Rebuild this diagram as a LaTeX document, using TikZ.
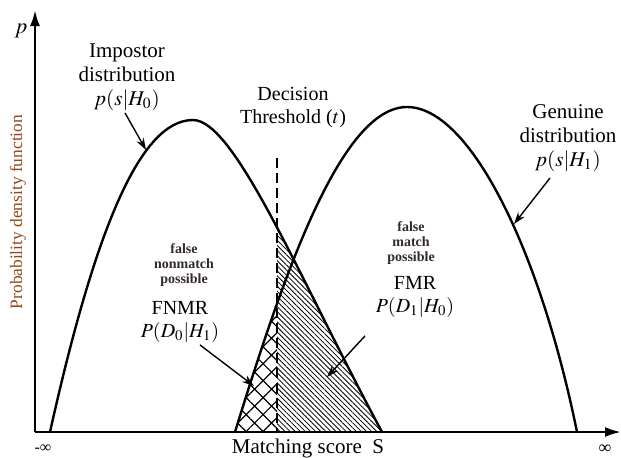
\documentclass[tikz,border=0pt]{standalone}
\usepackage{amsmath}
\usepackage{mathptmx}
\usepackage{fontspec}
\setmainfont{Liberation Serif}
\usetikzlibrary{arrows.meta,patterns.meta}
\definecolor{axisbrown}{RGB}{145,72,25}
\definecolor{hintgray}{RGB}{50,40,50}

\begin{document}
\begin{tikzpicture}[x=0.5pt,y=-0.5pt,axis/.style={line width=1.2pt,-{Latex[length=8pt,width=5pt]}},curve/.style={line width=1.2pt},pointer/.style={line width=0.7pt,-{Stealth[length=6pt,width=4pt]}},distlbl/.style={align=center,inner sep=0pt,font=\fontsize{10.5}{12}\selectfont},ratelbl/.style={align=center,inner sep=0pt,font=\fontsize{10}{11.5}\selectfont},hint/.style={align=center,inner sep=0pt,text=hintgray,font=\fontsize{7}{7.5}\selectfont\bfseries},fmrfill/.style={pattern={Lines[angle=-45,distance=1.8pt,line width=0.4pt]}},fnmrfill/.style={pattern={Hatch[angle=45,distance=6pt,line width=0.6pt]}}]
\def\impostor{(50,432) .. controls (95,230) and (140,120) .. (193,120) .. controls (235,120) and (300,280) .. (382,432)}
\def\genuine{(235,432) .. controls (282,280) and (340,107) .. (407,107) .. controls (470,107) and (540,250) .. (577,432)}
\def\tx{277};

\useasboundingbox (0,0) rectangle (621,457);

\begin{scope}
\clip (\tx,100) rectangle (400,432);
\fill[fmrfill] \impostor -- cycle;
\end{scope}
\begin{scope}
\clip (200,250) rectangle (\tx,432);
\fill[fnmrfill] \genuine -- cycle;
\end{scope}

\draw[curve] \impostor;
\draw[curve] \genuine;

\coordinate (O) at (35,432);
\coordinate (ytop) at (35,10);
\coordinate (xend) at (621,432);
\draw[axis] (O) -- (ytop);
\draw[axis] (O) -- (xend);

\coordinate (ttop) at (\tx,158);
\coordinate (tbot) at (\tx,432);
\draw[line width=1pt,dash pattern=on 5pt off 2.5pt] (ttop) -- (tbot);

\node (p) at (21,31) {\fontsize{11}{11}\selectfont$p$};
\node[rotate=90,text=axisbrown,font=\fontsize{8.7}{9}\selectfont] (pdf) at (18,212) {Probability density function};
\node[font=\fontsize{8}{8}\selectfont] (minf) at (43,449) {-∞};
\node[font=\fontsize{9}{9}\selectfont] (pinf) at (605,449) {∞};
\node[anchor=base,font=\fontsize{10.5}{12}\selectfont] (score) at (308,453) {Matching score\ \ S};

\node[distlbl] (imp) at (127,77) {Impostor\\distribution\\$p(s|H_0)$};
\node[distlbl] (gen) at (568,138) {Genuine\\distribution\\$p(s|H_1)$};
\node[ratelbl] (thr) at (293,107) {Decision\\Threshold ($t$)};

\node[hint] (fnmrhint) at (184,265) {false\\nonmatch\\possible};
\node[ratelbl] (fnmr) at (180,322) {FNMR\\$P(D_0|H_1)$};
\node[hint] (fmrhint) at (411,243) {false\\match\\possible};
\node[ratelbl] (fmr) at (415,297) {FMR\\$P(D_1|H_0)$};

\coordinate (impTip) at (146,150);
\coordinate (genTip) at (514,224);
\coordinate (fnmrTip) at (254,386);
\coordinate (fmrTip) at (327,377);
\draw[pointer] ([xshift=-1pt,yshift=-1pt]imp.south) -- (impTip);
\draw[pointer] ([xshift=-9pt,yshift=-3pt]gen.south) -- (genTip);
\draw[pointer] ([xshift=10pt,yshift=-1pt]fnmr.south) -- (fnmrTip);
\draw[pointer] ([xshift=-25pt,yshift=-9pt]fmr.south) -- (fmrTip);
\end{tikzpicture}
\end{document}
